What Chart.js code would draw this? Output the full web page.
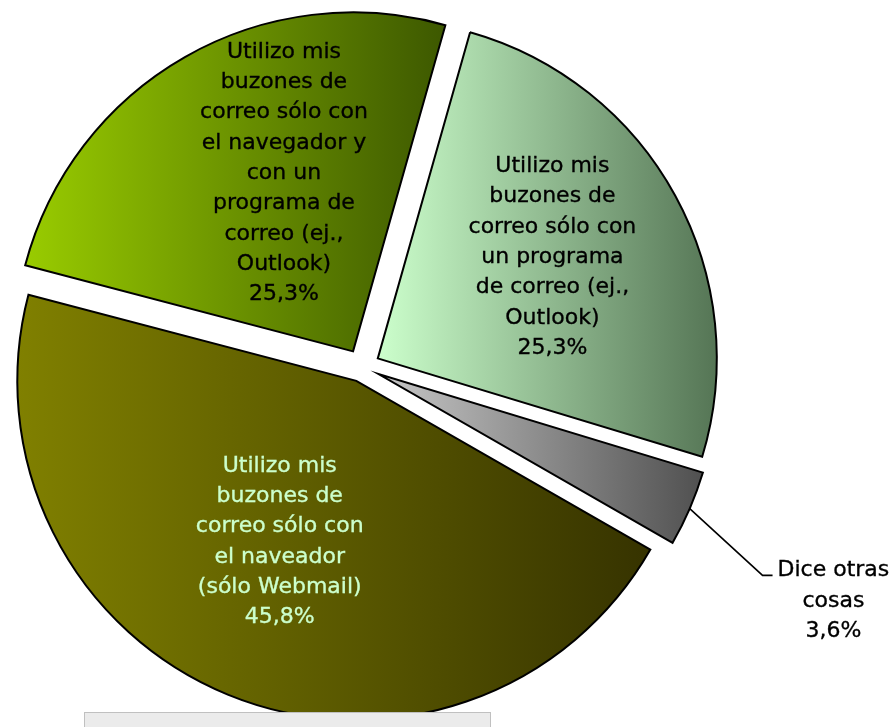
<!DOCTYPE html>
<html><head><meta charset="utf-8">
<script src="https://cdn.jsdelivr.net/npm/chart.js@4.4.0/dist/chart.umd.min.js"></script>
<style>html,body{margin:0;padding:0;background:#fff;} canvas{display:block;}</style>
</head><body>
<canvas id="c" width="893" height="727"></canvas>
<script>
// ---- data ----
const categories = [
  'Utilizo mis buzones de correo sólo con un programa de correo (ej., Outlook)',
  'Dice otras cosas',
  'Utilizo mis buzones de correo sólo con el naveador (sólo Webmail)',
  'Utilizo mis buzones de correo sólo con el navegador y con un programa de correo (ej., Outlook)'
];
const values = [25.3, 3.6, 45.8, 25.3];
const labelLines = [
  ['Utilizo mis', 'buzones de', 'correo sólo con', 'un programa', 'de correo (ej.,', 'Outlook)'],
  ['Dice otras', 'cosas'],
  ['Utilizo mis', 'buzones de', 'correo sólo con', 'el naveador', '(sólo Webmail)'],
  ['Utilizo mis', 'buzones de', 'correo sólo con', 'el navegador y', 'con un', 'programa de', 'correo (ej.,', 'Outlook)']
];

// ---- style ----
const gradStops = [['#ccffcc', '#557555'], ['#c8c8c8', '#505050'], ['#808000', '#363300'], ['#99cc00', '#3d5800']];
const explode = [18, 18, 15, 18];
const labelPlace = [
  {da: 0.0, f: 0.587},
  {da: 4.3, f: 1.279, leader: true},
  {da: 2.4, f: 0.541},
  {da: 7.9, f: 0.548}
];
const textColors = ['#000000', '#000000', '#ccffcc', '#000000'];
const FONT = '22px "DejaVu Sans"';
const LH = 30.3;

function fmtPct(v) { return v.toFixed(1).replace('.', ',') + '%'; }

const explodePlugin = {
  id: 'explode',
  afterDatasetUpdate(chart, args) {
    args.meta.data.forEach((arc, i) => {
      const mid = (arc.startAngle + arc.endAngle) / 2;
      arc.x += Math.cos(mid) * explode[i];
      arc.y += Math.sin(mid) * explode[i];
    });
  }
};

const gradientPlugin = {
  id: 'grad',
  beforeDatasetsDraw(chart) {
    const ctx = chart.ctx;
    const meta = chart.getDatasetMeta(0);
    meta.data.forEach((arc, i) => {
      const R = arc.outerRadius;
      const s = arc.startAngle, e = arc.endAngle;
      const xs = [arc.x, arc.x + R * Math.cos(s), arc.x + R * Math.cos(e)];
      for (let k = -4; k <= 8; k++) {
        const a = k * Math.PI / 2;
        if (a > s && a < e) xs.push(arc.x + R * Math.cos(a));
      }
      const x0 = Math.min(...xs), x1 = Math.max(...xs);
      const g = ctx.createLinearGradient(x0, 0, x1, 0);
      g.addColorStop(0, gradStops[i][0]);
      g.addColorStop(1, gradStops[i][1]);
      arc.options = Object.assign({}, arc.options, {backgroundColor: g});
    });
  }
};

function drawText(ctx, t, x, y) {
  ctx.strokeText(t, x, y);
  ctx.fillText(t, x, y);
}

const labelPlugin = {
  id: 'labels',
  afterDatasetsDraw(chart) {
    const ctx = chart.ctx;
    const meta = chart.getDatasetMeta(0);
    ctx.save();
    ctx.font = FONT;
    ctx.textAlign = 'center';
    ctx.textBaseline = 'alphabetic';
    meta.data.forEach((arc, i) => {
      const R = arc.outerRadius;
      const mid = (arc.startAngle + arc.endAngle) / 2;
      const p = labelPlace[i];
      const a = mid + p.da * Math.PI / 180;
      const ax = arc.x + p.f * R * Math.cos(a);
      const ay = arc.y + p.f * R * Math.sin(a);
      const lines = labelLines[i].concat([fmtPct(values[i])]);
      if (p.leader) {
        const sx = arc.x + R * Math.cos(mid), sy = arc.y + R * Math.sin(mid);
        const ex = ax + 10;
        ctx.strokeStyle = '#000';
        ctx.lineWidth = 1.6;
        ctx.beginPath();
        ctx.moveTo(sx, sy); ctx.lineTo(ax, ay); ctx.lineTo(ex, ay);
        ctx.stroke();
        ctx.fillStyle = textColors[i];
        ctx.strokeStyle = textColors[i];
        ctx.lineWidth = 0.35;
        const maxW = Math.max(...lines.map(l => ctx.measureText(l).width));
        const cx = ex + 5 + maxW / 2;
        lines.forEach((l, k) => drawText(ctx, l, cx, ay + 1 + k * LH));
      } else {
        ctx.fillStyle = textColors[i];
        ctx.strokeStyle = textColors[i];
        ctx.lineWidth = 0.35;
        const n = lines.length;
        lines.forEach((l, k) => drawText(ctx, l, ax, ay + (k - (n - 1) / 2) * LH));
      }
    });
    ctx.restore();
  },
  afterDraw(chart) {
    const ctx = chart.ctx;
    ctx.save();
    ctx.fillStyle = '#ebebeb';
    ctx.strokeStyle = '#c0c0c0';
    ctx.lineWidth = 1;
    ctx.fillRect(84.5, 712.5, 406, 30);
    ctx.strokeRect(84.5, 712.5, 406, 30);
    ctx.restore();
  }
};

new Chart(document.getElementById('c'), {
  type: 'pie',
  data: {
    labels: categories,
    datasets: [{
      data: values,
      backgroundColor: gradStops.map(s => s[0]),
      borderColor: '#000000',
      borderWidth: 2,
      borderJoinStyle: 'miter',
      radius: 339,
      clip: false
    }]
  },
  options: {
    responsive: false,
    animation: false,
    events: [],
    rotation: 15.8,
    layout: {padding: {left: 0, right: 169, top: 7, bottom: 0}},
    plugins: {legend: {display: false}, tooltip: {enabled: false}}
  },
  plugins: [explodePlugin, gradientPlugin, labelPlugin]
});
</script>
</body></html>
